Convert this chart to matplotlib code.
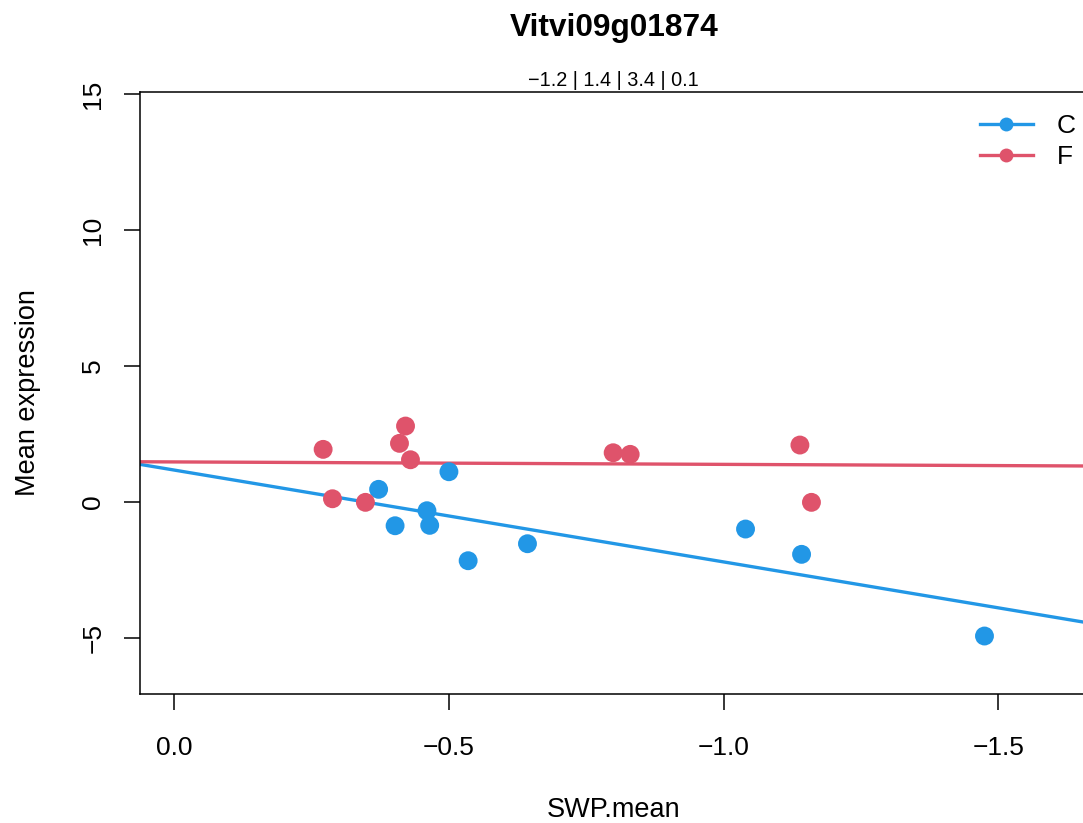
import numpy as np
import matplotlib
matplotlib.use("Agg")
import matplotlib.pyplot as plt
from matplotlib.lines import Line2D

plt.rcParams["font.family"] = ["Liberation Sans", "DejaVu Sans"]

# Stem water potential (x) and mean expression (y) per treatment
swp_C = [-0.372, -0.402, -0.460, -0.465, -0.500, -0.535, -0.643, -1.040, -1.142, -1.475]
expr_C = [0.457, -0.884, -0.331, -0.869, 1.105, -2.172, -1.546, -1.005, -1.937, -4.945]
swp_F = [-0.271, -0.288, -0.348, -0.410, -0.421, -0.430, -0.799, -0.830, -1.139, -1.160]
expr_F = [1.929, 0.110, -0.022, 2.150, 2.787, 1.546, 1.804, 1.745, 2.088, -0.022]

groups = ["C", "F"]
colors = {"C": "#2297E6", "F": "#DF536B"}
title = "Vitvi09g01874"
subtitle = "\u22121.2 | 1.4 | 3.4 | 0.1"
x_ticks = [0.0, -0.5, -1.0, -1.5]
y_ticks = [-5, 0, 5, 10, 15]

W, H = 1083, 823
fig = plt.figure(figsize=(W / 100, H / 100), dpi=100)

def fx(px):
    return px / W

def fy(py):
    return 1 - py / H

left, right, top, bottom = 140, 1085, 91.7, 694
ax = fig.add_axes([fx(left), fy(bottom), fx(right - left), (bottom - top) / H])

data = {"C": (swp_C, expr_C), "F": (swp_F, expr_F)}
for g in groups:
    x, y = np.asarray(data[g][0]), np.asarray(data[g][1])
    ax.scatter(x, y, s=185, color=colors[g], edgecolors="none", zorder=3)
    slope, intercept = np.polyfit(x, y, 1)
    ax.axline((0, intercept), slope=slope, color=colors[g], lw=2.4, zorder=2)

ax.set_xlim(0.0624, -1.658)
ax.set_ylim(-7.08, 15.1)

ax.set_xticks(x_ticks)
ax.set_xticklabels([f"{v:.1f}".replace("-", "\u2212") for v in x_ticks])
ax.set_yticks(y_ticks)
ax.set_yticklabels([str(v).replace("-", "\u2212") for v in y_ticks])

ax.tick_params(axis="both", direction="out", length=11.5, width=1.1, labelsize=19, colors="black")
ax.tick_params(axis="x", pad=18.5)
ax.tick_params(axis="y", pad=13.5)
for lbl in ax.get_yticklabels():
    lbl.set_rotation(90)
    lbl.set_va("center")

for s in ax.spines.values():
    s.set_linewidth(1.1)

ax.set_xlabel("SWP.mean", fontsize=19.5)
ax.set_ylabel("Mean expression", fontsize=19.5)
ax.xaxis.set_label_coords((614 - left) / (right - left), (bottom - 810) / (bottom - top))
ax.yaxis.set_label_coords((28 - left) / (right - left), (bottom - 393) / (bottom - top))
ax.xaxis.label.set_va("center")
ax.yaxis.label.set_va("center")

fig.text(fx(614), fy(28), title, fontsize=22.8, fontweight="bold", ha="center", va="center")
fig.text(fx(613), fy(80), subtitle, fontsize=14.3, ha="center", va="center")

handles = [Line2D([], [], color=colors[g], lw=2.4, marker="o", markersize=10,
                  markeredgewidth=0) for g in groups]
ax.legend(handles, groups, loc="upper left", bbox_to_anchor=(fx(980), fy(114)),
          bbox_transform=fig.transFigure, frameon=False, fontsize=19,
          handlelength=2.0, handletextpad=0.9, labelspacing=0.28,
          borderpad=0, borderaxespad=0)

fig.savefig("out.png", dpi=100)
